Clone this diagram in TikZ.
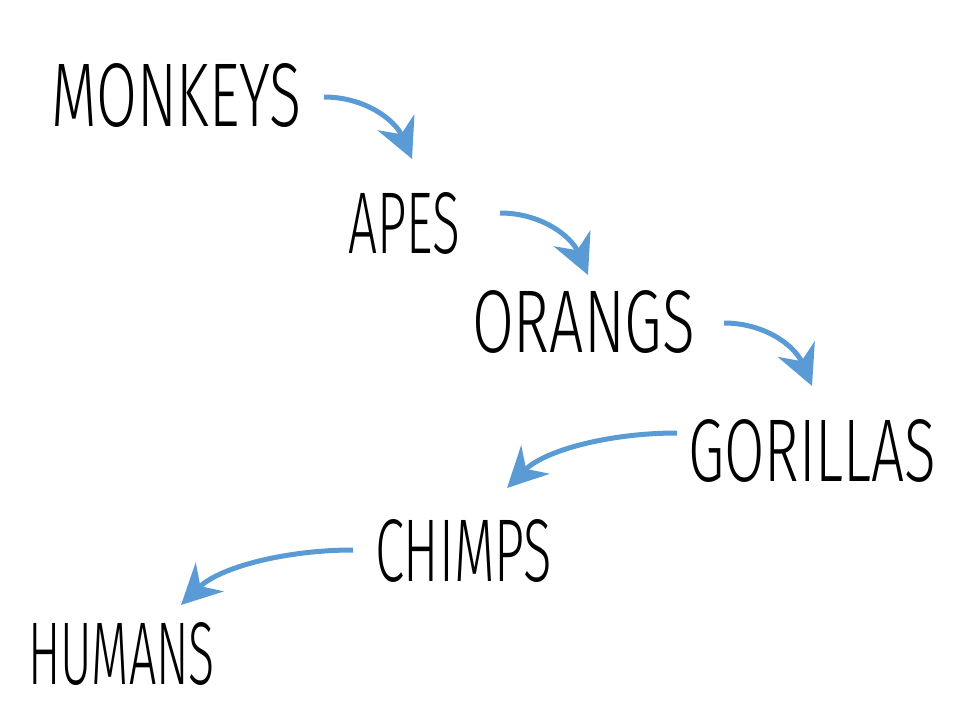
\documentclass[tikz,border=0pt]{standalone}
\usepackage{fontspec}
\setmainfont{Fira Sans Light}
\usetikzlibrary{arrows.meta}
\definecolor{arrowblue}{HTML}{5B9BD5}
\newcommand{\wordbox}[3]{\resizebox{#1pt}{#2pt}{#3}}
\begin{document}
\begin{tikzpicture}[x=1pt,y=-1pt,
  word/.style={inner sep=0pt,outer sep=0pt,anchor=north west},
  flow/.style={draw=arrowblue,line width=5pt,
    -{Stealth[length=40pt,width=40pt,inset=13pt]}}]
\useasboundingbox (0,0) rectangle (960,720);
\node[word] (monkeys) at (51,63) {\wordbox{250}{63}{MONKEYS}};
\node[word] (apes) at (348,192) {\wordbox{112}{61}{APES}};
\node[word] (orangs) at (472,290) {\wordbox{223}{62}{ORANGS}};
\node[word] (gorillas) at (688,419) {\wordbox{248}{62}{GORILLAS}};
\node[word] (chimps) at (375,519) {\wordbox{177}{62}{CHIMPS}};
\node[word] (humans) at (28,622) {\wordbox{187}{62}{HUMANS}};
\coordinate (a1s) at (324,97);  \coordinate (a1e) at (412,159);
\coordinate (a2s) at (500,213); \coordinate (a2e) at (588,275);
\coordinate (a3s) at (724,323); \coordinate (a3e) at (812,386);
\coordinate (a4s) at (677,433); \coordinate (a4e) at (507,488);
\coordinate (a5s) at (353,550); \coordinate (a5e) at (181,605);
\draw[flow] (a1s) .. controls (365,97) and (395,120) .. (a1e);
\draw[flow] (a2s) .. controls (541,213) and (571,236) .. (a2e);
\draw[flow] (a3s) .. controls (765,323) and (795,346) .. (a3e);
\draw[flow] (a4s) .. controls (610,433) and (545,450) .. (a4e);
\draw[flow] (a5s) .. controls (286,550) and (220,567) .. (a5e);
\end{tikzpicture}
\end{document}
